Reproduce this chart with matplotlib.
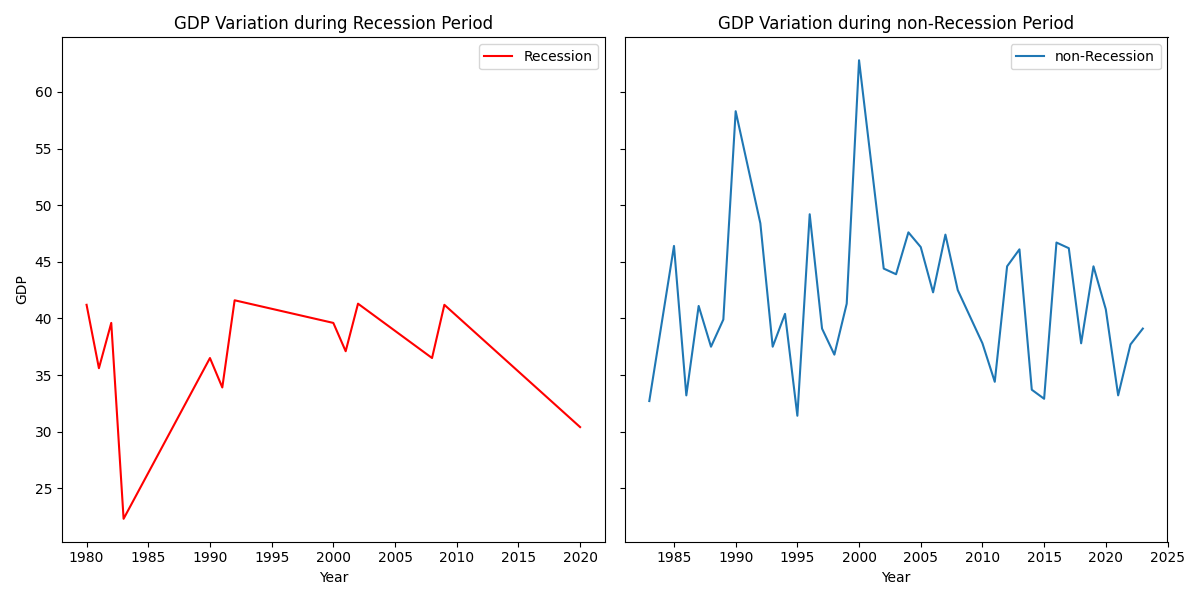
import matplotlib
matplotlib.use("Agg")
import matplotlib.pyplot as plt

rec_years = [1980, 1981, 1982, 1983, 1990, 1991, 1992, 2000, 2001, 2002, 2008, 2009, 2020]
rec_gdp = [41.2, 35.6, 39.6, 22.3, 36.5, 33.9, 41.6, 39.6, 37.1, 41.3, 36.5, 41.2, 30.4]

non_years = [1983, 1985, 1986, 1987, 1988, 1989, 1990, 1992, 1993, 1994, 1995, 1996,
             1997, 1998, 1999, 2000, 2002, 2003, 2004, 2005, 2006, 2007, 2008, 2010,
             2011, 2012, 2013, 2014, 2015, 2016, 2017, 2018, 2019, 2020, 2021, 2022, 2023]
non_gdp = [32.7, 46.4, 33.2, 41.1, 37.5, 39.9, 58.3, 48.4, 37.5, 40.4, 31.4, 49.2,
           39.1, 36.8, 41.3, 62.8, 44.4, 43.9, 47.6, 46.3, 42.3, 47.4, 42.5, 37.8,
           34.4, 44.6, 46.1, 33.7, 32.9, 46.7, 46.2, 37.8, 44.6, 40.8, 33.2, 37.7, 39.1]

fig, (ax1, ax2) = plt.subplots(1, 2, figsize=(12, 6), dpi=100, sharey=True)

ax1.plot(rec_years, rec_gdp, color='red', label='Recession')
ax1.set_title('GDP Variation during Recession Period')
ax1.set_xlabel('Year')
ax1.set_ylabel('GDP')
ax1.legend()

ax2.plot(non_years, non_gdp, label='non-Recession')
ax2.set_title('GDP Variation during non-Recession Period')
ax2.set_xlabel('Year')
ax2.legend()

plt.tight_layout()
plt.savefig('out.png')
